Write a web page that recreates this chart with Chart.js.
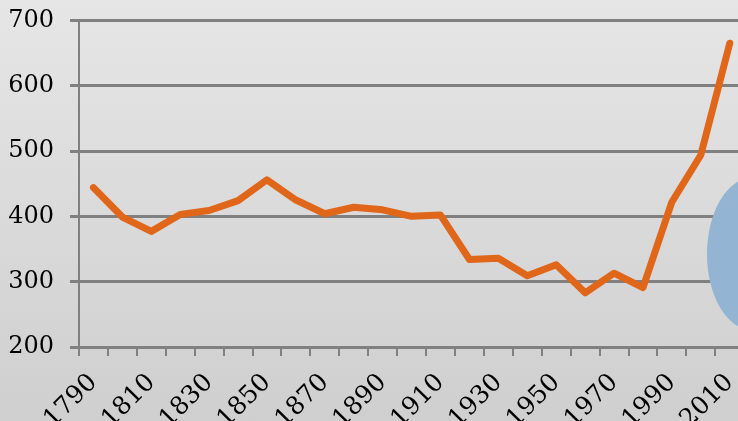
<!DOCTYPE html>
<html>
<head>
<meta charset="utf-8">
<script src="https://cdn.jsdelivr.net/npm/chart.js@4/dist/chart.umd.min.js"></script>
<style>
  html, body { margin: 0; padding: 0; overflow: hidden; }
  body { width: 738px; height: 421px; background: linear-gradient(#e6e6e6, #cfcfcf); position: relative; }
  #wrap { position: absolute; left: 0; top: -10px; width: 763px; height: 431px; }
  #blob { position: absolute; left: 707px; top: 178px; width: 90px; height: 152px;
          border-radius: 50%; background: #93b4d3; }
</style>
</head>
<body>
<div id="wrap"><canvas id="c"></canvas></div>
<div id="blob"></div>
<script>
// years every decade, labels shown every other one
const years = ['1790','1800','1810','1820','1830','1840','1850','1860','1870','1880','1890','1900',
  '1910','1920','1930','1940','1950','1960','1970','1980','1990','2000','2010'];
const values = [444, 399, 377, 403, 409, 424, 456, 425, 404, 414, 410, 400,
  402, 334, 336, 309, 326, 283, 313, 291, 422, 494, 665];
const yMin = 200, yMax = 700, yStep = 100;

const font = { family: '"DejaVu Serif", serif', size: 24 };

new Chart(document.getElementById('c'), {
  type: 'line',
  data: {
    labels: years,
    datasets: [{
      data: values,
      borderColor: '#e0661a',
      borderWidth: 7,
      pointRadius: 0,
      borderCapStyle: 'round',
      borderJoinStyle: 'round',
      tension: 0,
    }],
  },
  options: {
    responsive: true, maintainAspectRatio: false, animation: false,
    layout: { padding: { top: 10, right: 2, left: 0, bottom: 0 } },
    plugins: { legend: { display: false }, tooltip: { enabled: false } },
    scales: {
      x: {
        offset: true,
        grid: { offset: true, drawOnChartArea: false, color: '#808080', lineWidth: 2, tickLength: 9 },
        border: { color: '#808080', width: 3 },
        ticks: {
          autoSkip: false, maxRotation: 45, minRotation: 45, color: '#000', font: { ...font, size: 25 },
          padding: 12,
          callback: (v, i) => (i % 2 === 0 ? years[i] : ''),
        },
        afterFit: s => { s.height = 74; },
      },
      y: {
        min: yMin, max: yMax,
        grid: { color: '#808080', lineWidth: 3, tickLength: 9 },
        border: { color: '#808080', width: 2 },
        ticks: { stepSize: yStep, color: '#000', font, padding: 16 },
        afterFit: s => { s.width = 79; },
      },
    },
  },
});
</script>
</body>
</html>
